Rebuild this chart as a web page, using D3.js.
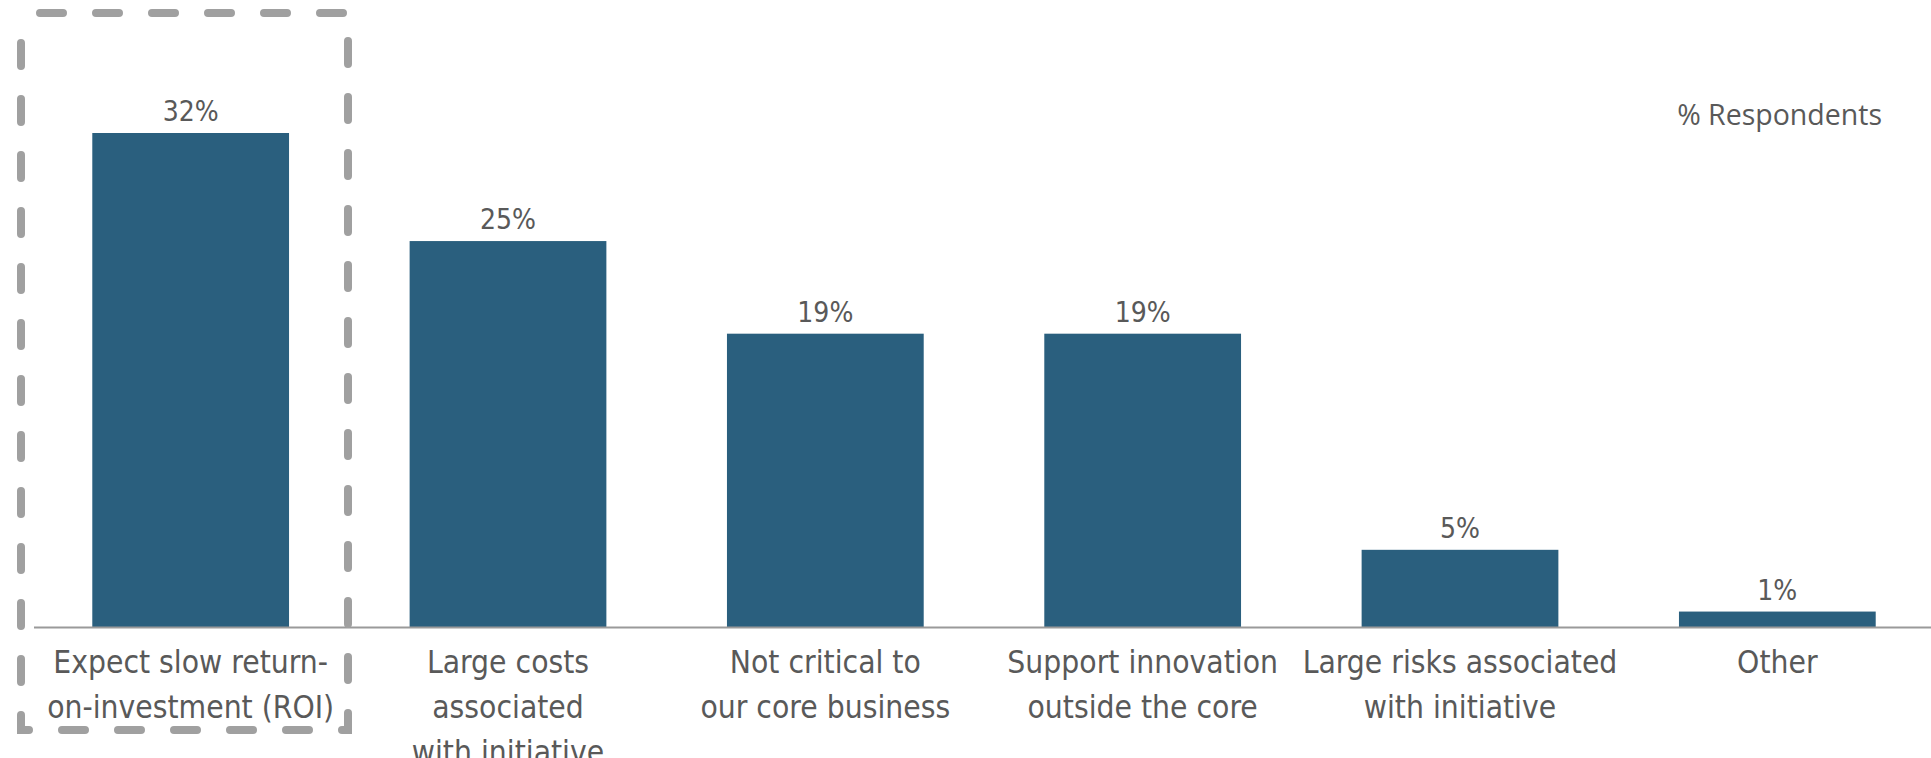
<!DOCTYPE html>
<html>
<head>
<meta charset="utf-8">
<script src="https://cdn.jsdelivr.net/npm/d3@7.9.0/dist/d3.min.js"></script>
<style>
  html, body { margin: 0; padding: 0; background: #fff; }
  svg { display: block; }
</style>
</head>
<body>
<svg id="chart" width="1931" height="758"></svg>
<script>
const categories = [
    ['Expect slow return-', 'on-investment (ROI)'],
    ['Large costs', 'associated', 'with initiative'],
    ['Not critical to', 'our core business'],
    ['Support innovation', 'outside the core'],
    ['Large risks associated', 'with initiative'],
    ['Other']
];
const values = [32, 25, 19, 19, 5, 1];
const unitLabel = '% Respondents';

const width = 1931, height = 758;
const baseline = 627;
const svg = d3.select('#chart');

let x = d3.scaleBand()
    .domain(d3.range(values.length))
    .range([32, 1936])
    .paddingInner(0.38)
    .paddingOuter(0.19);

let y = d3.scaleLinear().domain([0, 32]).range([baseline, 133]);

// bars
svg.selectAll('rect.bar')
    .data(values)
    .join('rect')
    .attr('class', 'bar')
    .attr('x', (d, i) => x(i))
    .attr('y', d => y(d))
    .attr('width', x.bandwidth())
    .attr('height', d => y(0) - y(d))
    .attr('fill', '#2a5f7e');

// baseline
svg.append('line')
    .attr('x1', 34).attr('x2', width)
    .attr('y1', baseline + 0.5).attr('y2', baseline + 0.5)
    .attr('stroke', '#9a9a9a')
    .attr('stroke-width', 2);

// value labels
svg.selectAll('text.val')
    .data(values)
    .join('text')
    .attr('class', 'val')
    .attr('x', (d, i) => x(i) + x.bandwidth() / 2)
    .attr('y', d => y(d) - 12)
    .attr('text-anchor', 'middle')
    .attr('font-family', 'DejaVu Sans Condensed')
    .attr('font-size', 28)
    .attr('fill', '#595959')
    .text(d => d + '%');

// category labels (third line runs off the bottom, as in the original)
categories.forEach((lines, i) => {
    let t = svg.append('text')
        .attr('text-anchor', 'middle')
        .attr('font-family', 'DejaVu Sans Condensed')
        .attr('font-size', 31.5)
        .attr('fill', '#595959');
    lines.forEach((line, j) => {
        t.append('tspan')
            .attr('x', x(i) + x.bandwidth() / 2)
            .attr('y', 673 + j * 45)
            .text(line);
    });
});

// unit label
svg.append('text')
    .attr('x', 1882)
    .attr('y', 125)
    .attr('text-anchor', 'end')
    .attr('font-family', 'Open Sans')
    .attr('font-size', 28.5)
    .attr('fill', '#595959')
    .text(unitLabel);

// dashed highlight box round first category
svg.append('path')
    .attr('d', 'M21,13 H348 V730 H21 Z')
    .attr('fill', 'none')
    .attr('stroke', '#a0a0a0')
    .attr('stroke-width', 8)
    .attr('stroke-linecap', 'round')
    .attr('stroke-dasharray', '23 33')
    .attr('stroke-dashoffset', 37);
</script>
</body>
</html>
